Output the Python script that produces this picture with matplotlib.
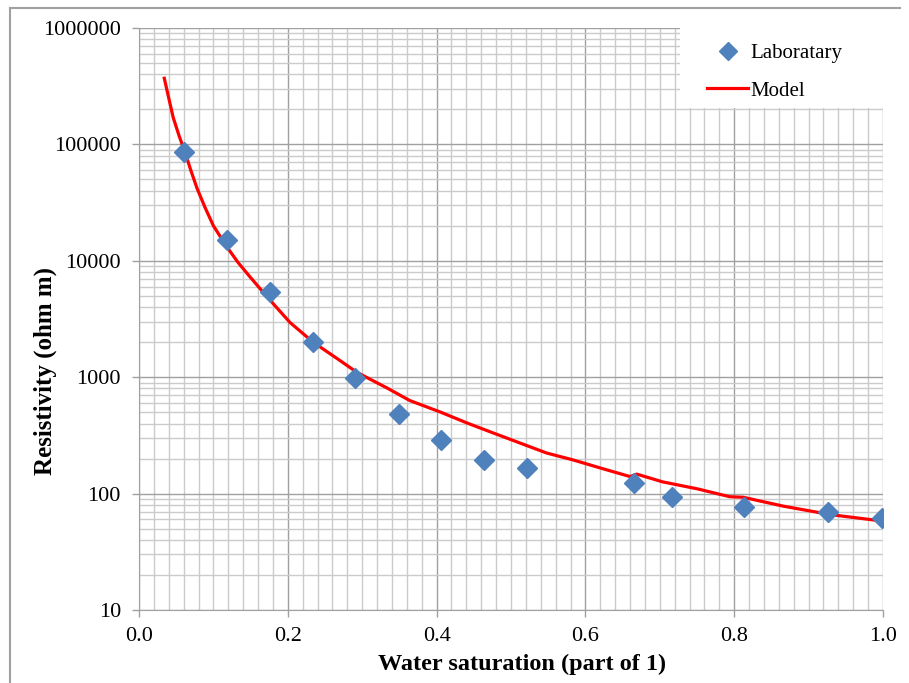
import matplotlib.pyplot as plt
from matplotlib.lines import Line2D
from matplotlib.patches import Rectangle
from matplotlib.ticker import MultipleLocator, LogLocator, FixedLocator, NullFormatter

# Laboratory measurements
lab_sw = [0.060, 0.118, 0.176, 0.234, 0.290, 0.349, 0.406, 0.464, 0.521,
          0.665, 0.716, 0.813, 0.926, 0.999]
lab_res = [86000, 15100, 5400, 2000, 985, 483, 288, 194, 166,
           123, 93.5, 76.7, 69.5, 61.7]

# Model curve
model_sw = [0.034, 0.040, 0.046, 0.054, 0.062, 0.070, 0.078, 0.089, 0.100,
            0.118, 0.133, 0.149, 0.176, 0.203, 0.234, 0.266, 0.293, 0.333,
            0.364, 0.405, 0.441, 0.476, 0.512, 0.548, 0.583, 0.620, 0.660,
            0.669, 0.704, 0.750, 0.794, 0.812, 0.866, 0.929, 1.000]
model_res = [370000, 250000, 170000, 118000, 85000, 59000, 42000, 28500, 20000,
             13200, 9700, 7300, 4600, 2950, 2000, 1450, 1100, 810,
             630, 502, 404, 332, 272, 223, 195, 166, 140,
             147, 126, 110, 94, 93, 78, 66, 58]

x_ticks = [0.0, 0.2, 0.4, 0.6, 0.8, 1.0]
y_ticks = [10, 100, 1000, 10000, 100000, 1000000]

plt.rcParams['font.family'] = ['Liberation Serif', 'DejaVu Serif']

fig = plt.figure(figsize=(9.09, 6.83), dpi=100)
ax = fig.add_axes([0.1529, 0.1069, 0.8185, 0.8521])

# frame lines along the top and left of the chart area
fig.add_artist(Line2D([0.011, 0.990], [0.989, 0.989], transform=fig.transFigure,
                      color='#a0a0a0', linewidth=1.5))
fig.add_artist(Line2D([0.011, 0.011], [0.0, 0.989], transform=fig.transFigure,
                      color='#a0a0a0', linewidth=1.5))

ax.set_yscale('log')
ax.set_xlim(0, 1.0)
ax.set_ylim(10, 1000000)

ax.xaxis.set_major_locator(FixedLocator(x_ticks))
ax.xaxis.set_minor_locator(MultipleLocator(0.02))
ax.yaxis.set_major_locator(FixedLocator(y_ticks))
ax.yaxis.set_minor_locator(LogLocator(base=10, subs=range(2, 10)))
ax.yaxis.set_minor_formatter(NullFormatter())
ax.set_xticklabels(['%.1f' % v for v in x_ticks])
ax.set_yticklabels([str(v) for v in y_ticks])

ax.grid(which='major', color='#a0a0a0', linewidth=1.0)
ax.grid(which='minor', color='#cbcbcb', linewidth=1.0)
ax.set_axisbelow(True)

ax.tick_params(which='major', length=5, width=1, color='#a0a0a0', labelsize=16)
ax.tick_params(axis='y', which='major', pad=8)
ax.tick_params(axis='x', which='major', pad=7)
ax.tick_params(which='minor', length=0)
for side in ['top', 'right']:
    ax.spines[side].set_visible(False)
for side in ['left', 'bottom']:
    ax.spines[side].set_color('#a0a0a0')

ax.plot(lab_sw, lab_res, linestyle='none', marker='D', markersize=10.5,
        color='#4f81bd', label='Laboratary', zorder=3)
ax.plot(model_sw, model_res, color='#ff0000', linewidth=2.3, label='Model', zorder=2)

ax.set_xlabel('Water saturation (part of 1)', fontsize=17.5, fontweight='bold')
ax.set_ylabel('Resistivity (ohm m)', fontsize=18, fontweight='bold')
ax.xaxis.set_label_coords(0.515, -0.075)
ax.yaxis.set_label_coords(-0.110, 0.41)

# white panel behind the legend
ax.add_patch(Rectangle((0.727, 0.8625), 0.273, 0.1375, transform=ax.transAxes,
                       facecolor='white', edgecolor='none', zorder=1.5))
ax.legend(loc='upper left', bbox_to_anchor=(0.763, 0.973), borderaxespad=0,
          borderpad=0, frameon=False, fontsize=15, handlelength=2.0,
          handletextpad=0.1, labelspacing=0.85, markerscale=0.85)

fig.savefig('out.png', dpi=100)
